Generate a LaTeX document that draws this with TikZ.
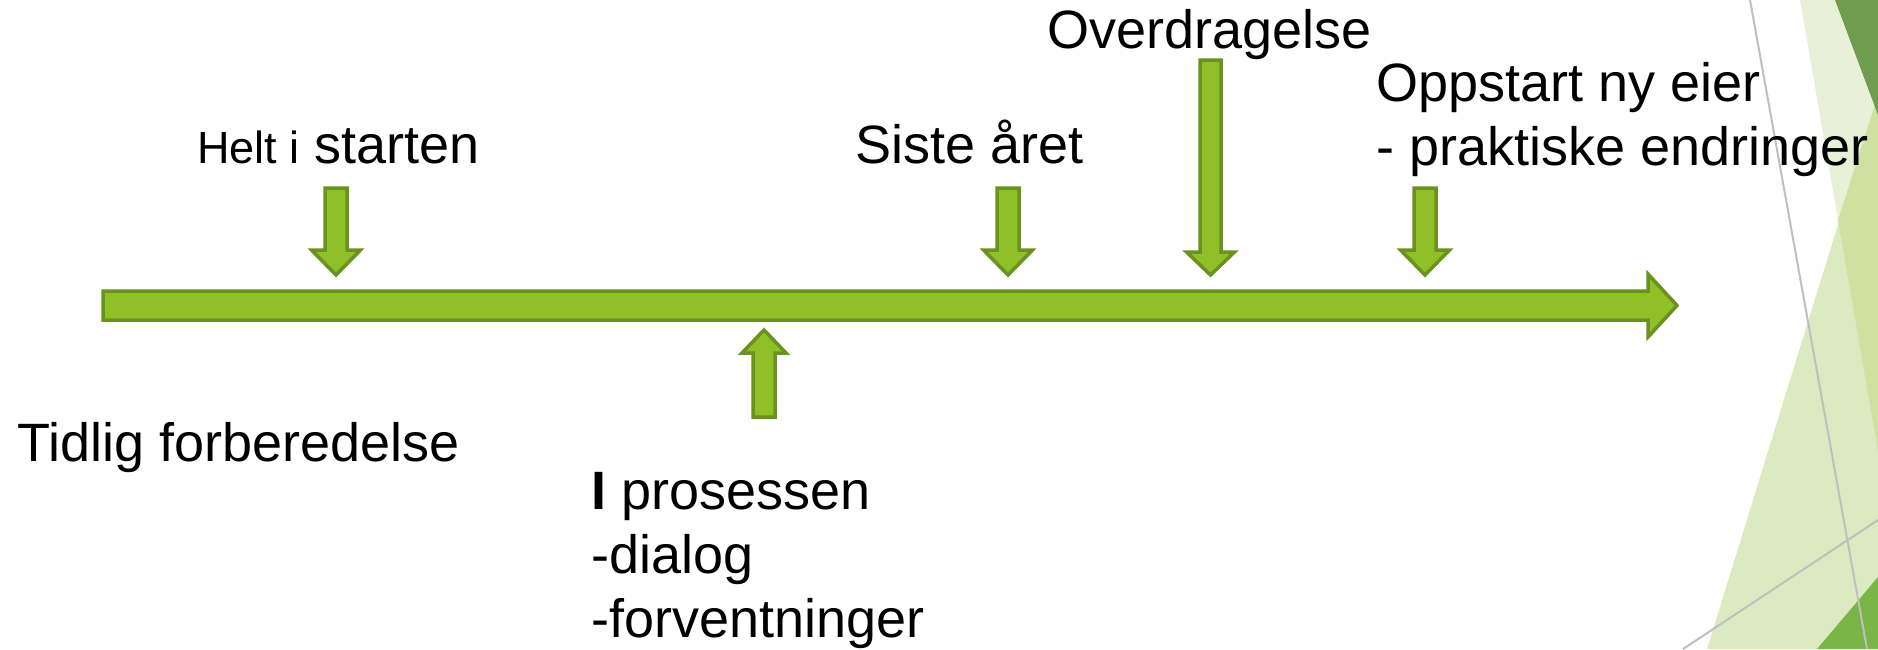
\documentclass[tikz,border=0pt]{standalone}
\usepackage{fontspec}
\setmainfont{Liberation Sans}
\definecolor{arrowfill}{HTML}{8FC027}
\definecolor{arrowline}{HTML}{6B911E}
\definecolor{facetpale}{HTML}{E8F1D7}
\definecolor{facetlight}{HTML}{DCEAC1}
\definecolor{facetmid}{HTML}{CEE1A0}
\definecolor{facetdark}{HTML}{6F9D50}
\definecolor{facetgreen}{HTML}{79B547}
\tikzset{
  blockarrow/.style={fill=arrowfill, draw=arrowline, line width=3.5pt, line join=miter},
  steptext/.style={anchor=base west, inner sep=0pt, align=left, font=\fontsize{54}{64}\selectfont},
  facetline/.style={draw=black!25, line width=2pt}
}

\begin{document}
\begin{tikzpicture}[x=1pt, y=-1pt]
	\useasboundingbox (0, 0) rectangle (1878, 649);
	
	%%%%% facets %%%%%
	\fill[facetpale] (1800, 0) -- (1878, 0) -- (1878, 451) -- cycle;
	\fill[facetlight] (1878, 95) -- (1707, 649) -- (1878, 649) -- cycle;
	\fill[facetmid] (1878, 95) -- (1838, 220) -- (1878, 451) -- cycle;
	\fill[facetdark] (1835, 0) -- (1878, 0) -- (1878, 115) -- cycle;
	\fill[facetgreen] (1817, 649) -- (1878, 577) -- (1878, 649) -- cycle;
	\draw[facetline] (1750, 0) -- (1867, 649);
	\draw[facetline] (1683, 649) -- (1878, 520);
	
	%%%%% timeline %%%%%
	\draw[blockarrow] (103, 291) -- (1648, 291) -- (1648, 274) -- (1677, 305.5)
		-- (1648, 337) -- (1648, 320) -- (103, 320) -- cycle;
	
	% down arrows
	\draw[blockarrow] (325, 188) -- (347, 188) -- (347, 250) -- (360.5, 250) -- (336, 275)
		-- (311.5, 250) -- (325, 250) -- cycle;
	\draw[blockarrow] (997, 188) -- (1019, 188) -- (1019, 250) -- (1032.5, 250) -- (1008, 275)
		-- (983.5, 250) -- (997, 250) -- cycle;
	\draw[blockarrow] (1200, 60) -- (1221, 60) -- (1221, 252) -- (1234.5, 252) -- (1210.5, 275)
		-- (1186.5, 252) -- (1200, 252) -- cycle;
	\draw[blockarrow] (1414, 188) -- (1436, 188) -- (1436, 250) -- (1449.5, 250) -- (1425, 275)
		-- (1400.5, 250) -- (1414, 250) -- cycle;
	
	% up arrow
	\draw[blockarrow] (753, 417) -- (775, 417) -- (775, 353) -- (786, 353) -- (764, 330)
		-- (742, 353) -- (753, 353) -- cycle;
	
	%%%%% labels %%%%%
	% multi-line labels sit on the baseline of their last line
	\node[steptext] (start) at (197, 163) {{\fontsize{45}{54}\selectfont Helt i} starten};
	\node[steptext] (siste) at (855, 163) {Siste året};
	\node[steptext] (over) at (1047, 48) {Overdragelse};
	\node[steptext] (ny) at (1376, 165) {Oppstart ny eier\\- praktiske endringer};
	\node[steptext] (tidlig) at (17, 461) {Tidlig forberedelse};
	\node[steptext] (prosess) at (591, 637) {\textbf{I} prosessen\\-dialog\\-forventninger};
\end{tikzpicture}
\end{document}
